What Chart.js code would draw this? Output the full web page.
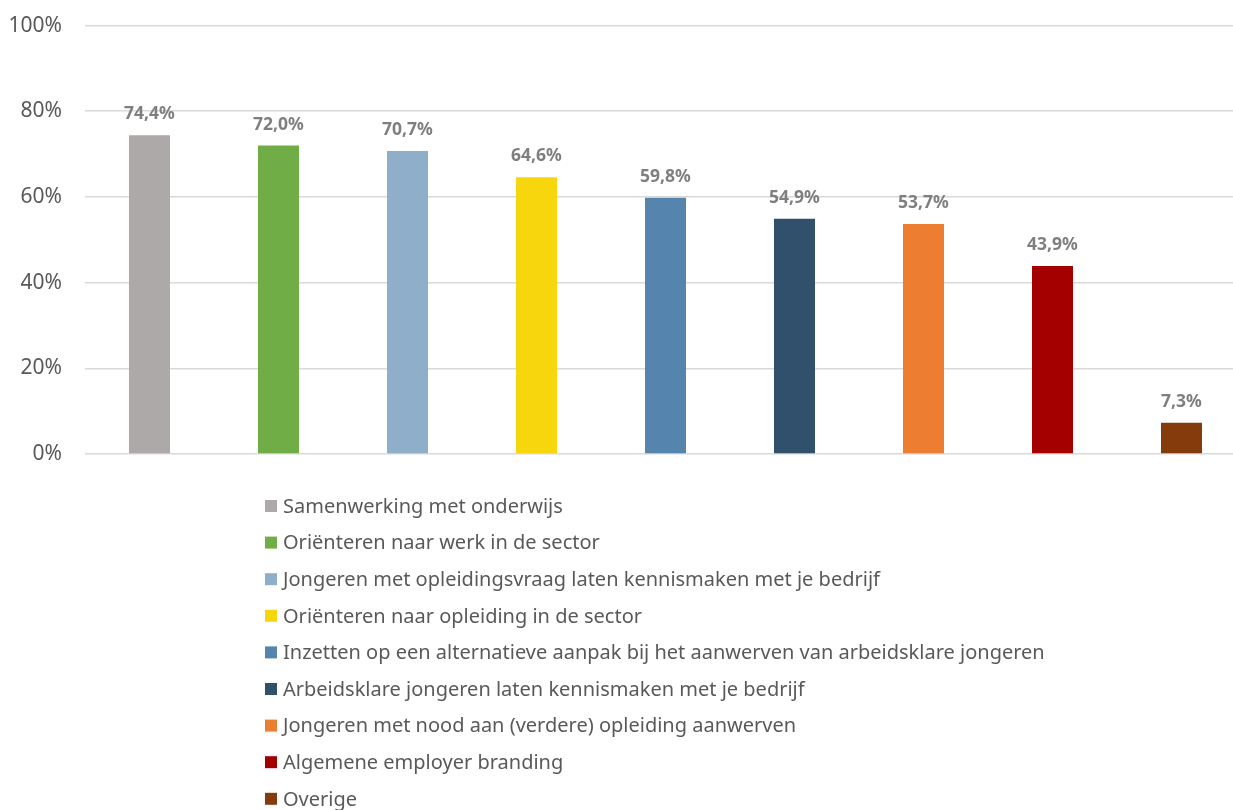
<!DOCTYPE html>
<html>
<head>
<meta charset="utf-8">
<script src="https://cdn.jsdelivr.net/npm/chart.js@4"></script>
<style>
html,body{margin:0;padding:0;background:#fff;overflow:hidden;}
#wrap{position:relative;width:1233px;height:810px;overflow:hidden;}
#c{position:absolute;left:0;top:-10px;}
</style>
</head>
<body>
<div id="wrap"><canvas id="c" width="1246" height="820"></canvas></div>
<script>
const categories = [
  "Samenwerking met onderwijs",
  "Oriënteren naar werk in de sector",
  "Jongeren met opleidingsvraag laten kennismaken met je bedrijf",
  "Oriënteren naar opleiding in de sector",
  "Inzetten op een alternatieve aanpak bij het aanwerven van arbeidsklare jongeren",
  "Arbeidsklare jongeren laten kennismaken met je bedrijf",
  "Jongeren met nood aan (verdere) opleiding aanwerven",
  "Algemene employer branding",
  "Overige"
];
const values = [74.4, 72.0, 70.7, 64.6, 59.8, 54.9, 53.7, 43.9, 7.3];
const colors = ["#ADA9A8", "#70AD47", "#8EAEC9", "#F8D60E", "#5585AD", "#31506B", "#ED7D31", "#A50000", "#843C0C"];
const yTicks = [0, 20, 40, 60, 80, 100];

const FONT = "'Noto Sans', 'Open Sans', sans-serif";

const dataLabelPlugin = {
  id: 'dataLabels',
  afterDatasetsDraw(chart) {
    const ctx = chart.ctx;
    const meta = chart.getDatasetMeta(0);
    ctx.save();
    ctx.font = "bold 17.5px " + FONT;
    ctx.fillStyle = "#7F7F7F";
    ctx.textAlign = "center";
    ctx.textBaseline = "alphabetic";
    meta.data.forEach((bar, i) => {
      const txt = values[i].toFixed(1).replace('.', ',') + '%';
      ctx.fillText(txt, bar.x, bar.y - 16);
    });
    ctx.restore();
  }
};

const legendPlugin = {
  id: 'vertLegend',
  afterDraw(chart) {
    const ctx = chart.ctx;
    ctx.save();
    ctx.font = "20px " + FONT;
    ctx.textBaseline = "middle";
    ctx.textAlign = "left";
    categories.forEach((name, i) => {
      const cy = 516 + i * 36.6;
      ctx.fillStyle = colors[i];
      ctx.fillRect(265, cy - 6, 12, 12);
      ctx.fillStyle = "#595959";
      ctx.fillText(name, 283, cy + 1);
    });
    ctx.restore();
  }
};

new Chart(document.getElementById('c'), {
  type: 'bar',
  data: {
    labels: categories,
    datasets: [{
      label: 'Aandeel',
      data: values,
      backgroundColor: colors,
      borderWidth: 0,
      barPercentage: 0.318,
      categoryPercentage: 1.0
    }]
  },
  options: {
    responsive: false,
    animation: false,
    layout: { padding: { left: 0, right: 0, top: 5, bottom: 348 } },
    plugins: {
      legend: { display: false },
      tooltip: { enabled: false }
    },
    scales: {
      x: {
        ticks: { display: false },
        grid: { display: false },
        border: { display: false }
      },
      y: {
        min: 0,
        max: 100,
        afterBuildTicks(scale) { scale.ticks = yTicks.map(v => ({ value: v })); },
        afterFit(scale) { scale.width = 85; },
        ticks: {
          callback: v => v + '%',
          font: { family: FONT, size: 21 },
          color: '#595959',
          padding: 23
        },
        grid: { color: '#D9D9D9', lineWidth: 1.6, drawTicks: false },
        border: { display: false }
      }
    }
  },
  plugins: [dataLabelPlugin, legendPlugin]
});
</script>
</body>
</html>
